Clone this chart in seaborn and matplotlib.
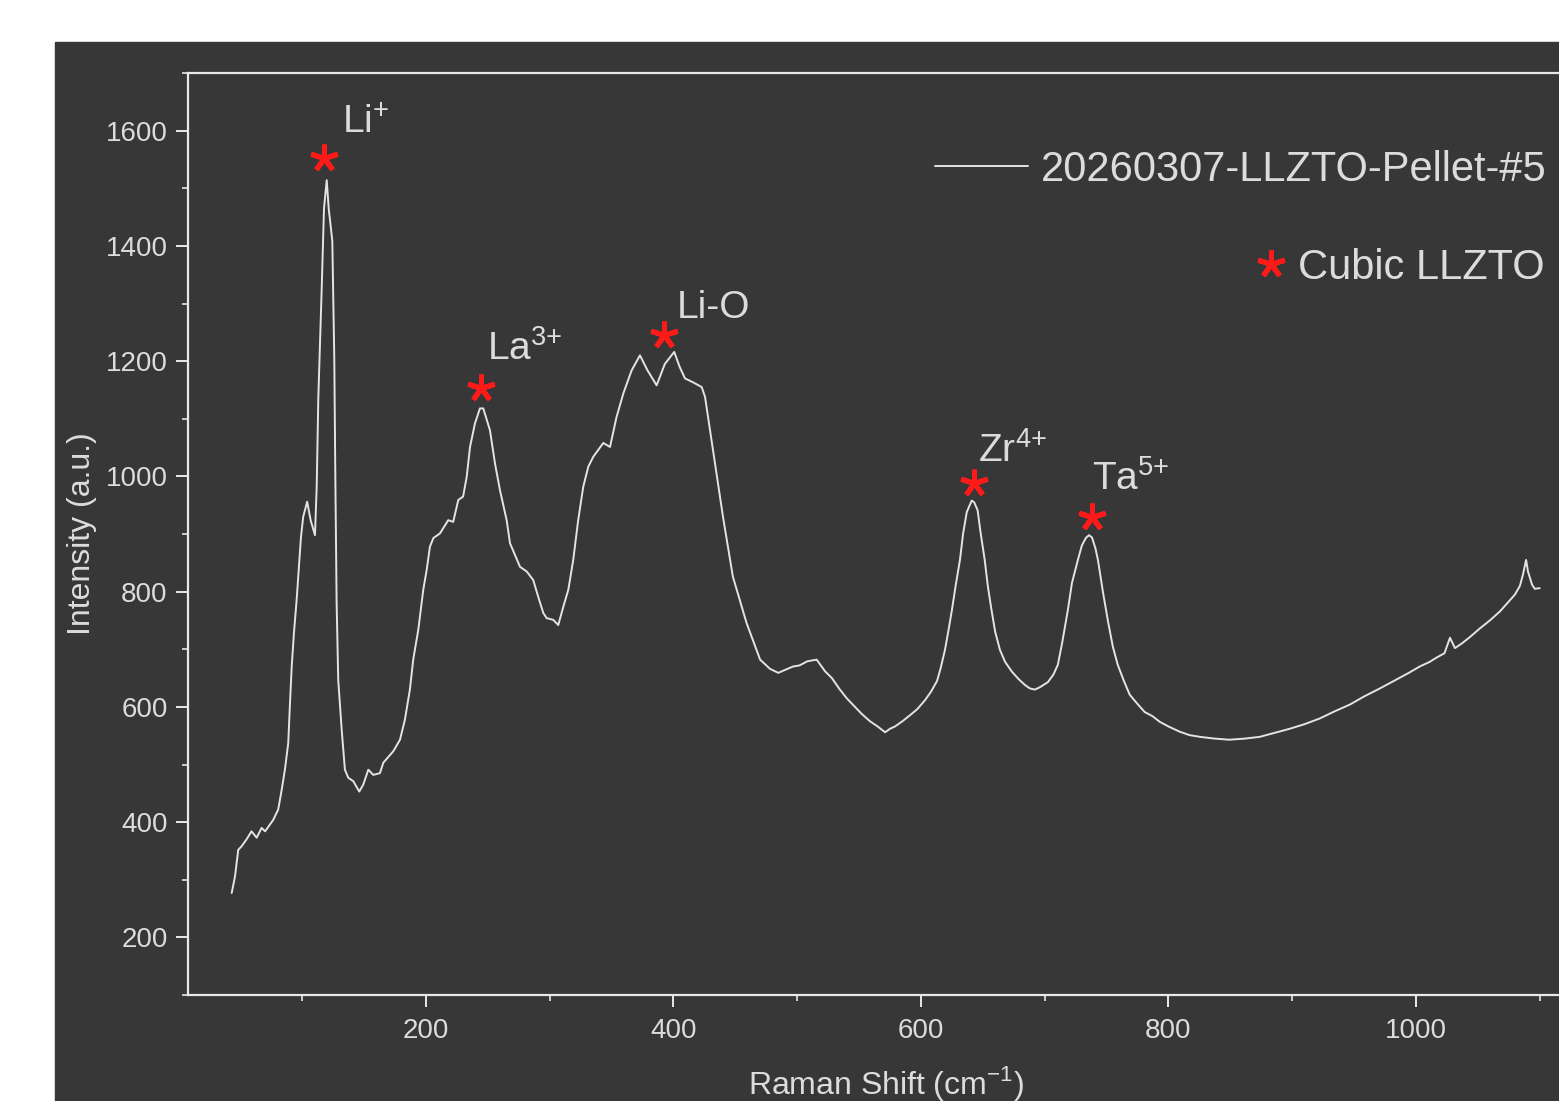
import numpy as np
import pandas as pd
import seaborn as sns
import matplotlib.pyplot as plt
from matplotlib.patches import Rectangle
from matplotlib.lines import Line2D
from matplotlib.ticker import MultipleLocator

# Raman spectrum (Raman shift in cm-1, intensity in a.u.)
shift = [43, 45.7, 48.3, 51, 55, 59, 63.2, 67.2, 70, 76.6, 80.6, 83.4, 86, 88.7, 90, 91.5,
         93.3, 95.5, 97.4, 99, 100.8, 104, 106.8, 110.3, 111.7, 113, 115.7, 117.6, 119.8,
         121.4, 124.3, 125.9, 126.8, 127.8, 129.1, 131.9, 134.5, 137.2, 141.3, 146.1, 149.3,
         153.4, 157.4, 162.8, 165.5, 173.6, 179, 183, 187, 189.7, 193.8, 197.8, 200.6, 203.2,
         206, 211.3, 218, 222, 226.1, 230, 232.9, 235.6, 239.6, 243.6, 246.3, 251.7, 255.8,
         259.8, 265.2, 267.9, 276, 281.4, 286.7, 290.7, 294.8, 297.5, 302.9, 306.9, 311, 315,
         319, 323, 327.1, 331.2, 335.2, 339.2, 343.3, 348.7, 354, 359.5, 366.2, 372.9, 379,
         386.4, 393, 400.6, 405, 409.3, 416, 422.8, 425.5, 432, 440, 448, 459, 470, 478,
         484.7, 490, 496.6, 502, 508, 515.7, 522.4, 528, 534.5, 540, 546.7, 552, 558.8, 565,
         571, 575, 579, 585, 591.4, 597, 603.4, 608, 613, 616, 619.4, 622, 625, 628, 631.5,
         634, 637, 641, 643, 645.8, 648, 651.5, 654, 657, 660, 663.8, 668, 673.5, 679, 684,
         688, 692, 696, 702.6, 707, 710.6, 714, 718.7, 722, 726.8, 730, 733.2, 735.8, 738.2,
         741, 743, 747, 751, 755, 759, 764, 768.7, 775, 780.8, 787, 793, 800, 809, 817,
         825.4, 837, 849, 862, 873.8, 886, 898, 910, 922.4, 934, 946.6, 958, 970.8, 983, 995,
         1003, 1011, 1017, 1023, 1027.5, 1031.5, 1037, 1043.5, 1051, 1059.7, 1068, 1075.8,
         1080, 1084, 1086.5, 1089, 1090.5, 1093.8, 1096, 1100]
intensity = [277, 306, 352, 358, 370, 384, 373, 390, 384, 404, 422, 456, 491, 537, 601, 670,
             728, 786, 846, 895, 930, 956, 924, 898, 982, 1136, 1323, 1465, 1514,
             1465, 1409, 1207, 990, 780, 647, 560, 491, 477, 471, 453, 465,
             491, 482, 485, 503, 523, 543, 578, 630, 682, 734, 803, 838, 878,
             893, 901, 924, 921, 959, 965, 999, 1051, 1092, 1118, 1118, 1080, 1022,
             976, 924, 884, 843, 835, 820, 791, 763, 754, 751, 742, 774, 803,
             855, 924, 982, 1017, 1034, 1046, 1058, 1051, 1103, 1144, 1184, 1210, 1184,
             1158, 1195, 1216, 1190, 1170, 1163, 1155, 1138, 1045, 930, 826, 746, 682, 666,
             659, 664, 670, 672, 679, 682, 662, 650, 630, 615, 600, 588, 575, 566,
             556, 562, 566, 575, 586, 596, 612, 626, 645, 668, 699, 730, 768, 810, 855,
             900, 938, 958, 955, 941, 905, 855, 810, 768, 730, 699, 678, 661, 648, 638,
             632, 630, 634, 643, 656, 673, 710, 768, 815, 855, 880, 893, 898, 894,
             875, 855, 800, 750, 705, 673, 645, 621, 605, 591, 584, 574, 566, 557, 551,
             548, 545, 543, 545, 548, 555, 562, 570, 580, 592, 604, 618, 632, 646, 660,
             670, 678, 686, 693, 720, 702, 710, 721, 735, 750, 766, 785,
             795, 810, 830, 855, 835, 812, 805, 806]

# Cubic LLZTO peak markers
peak_shift = [117.6, 244.4, 392.3, 642.8, 738.2]
peak_height = [1553, 1153, 1246, 988, 929]
peak_labels = [r"Li$^{\mathregular{{+}}}$", r"La$^{\mathregular{3{+}}}$", "Li-O",
               r"Zr$^{\mathregular{4{+}}}$", r"Ta$^{\mathregular{5{+}}}$"]
label_offsets = [(18, 24), (6, 28), (13, 17), (4, 21), (0, 27)]  # pixels

series_name = "20260307-LLZTO-Pellet-#5"

dark = "#373737"
fg = "#dcdcdc"
star_red = "#ff1a1a"

sns.set_theme(style="dark", rc={
    "axes.facecolor": dark,
    "figure.facecolor": "white",
    "axes.edgecolor": "#e8e8e8",
    "axes.linewidth": 1.6,
    "xtick.color": "#e8e8e8",
    "ytick.color": "#e8e8e8",
    "xtick.labelcolor": fg,
    "ytick.labelcolor": fg,
    "axes.labelcolor": fg,
    "text.color": fg,
})
plt.rcParams['font.family'] = ['Liberation Sans', 'DejaVu Sans']
plt.rcParams['mathtext.fontset'] = 'custom'
plt.rcParams['mathtext.rm'] = 'Liberation Sans'

W, H = 1559, 1101
fig = plt.figure(figsize=(W / 100, H / 100), dpi=100)
fig.patches.append(Rectangle((55 / W, 0), 1, (H - 42) / H, transform=fig.transFigure,
                             color=dark, zorder=-1))

ax_left, ax_bottom = 188 / W, (H - 995) / H
ax_h = (995 - 73) / H
x0, x1 = 7.7, 1135
ax_w = (x1 - x0) * 1.2375 / W
ax = fig.add_axes([ax_left, ax_bottom, ax_w, ax_h])

df = pd.DataFrame({"shift": shift, "intensity": intensity})
sns.lineplot(data=df, x="shift", y="intensity", ax=ax, color="#e4e4e4", lw=1.4,
             estimator=None, legend=False)

ax.plot(peak_shift, peak_height, ls="none", marker=(5, 2, 0), ms=20, mew=3.6,
        color=star_red, zorder=4)
for px, py, lab, off in zip(peak_shift, peak_height, peak_labels, label_offsets):
    ax.annotate(lab, (px, py), xytext=off, textcoords="offset pixels",
                ha="left", va="baseline", fontsize=28, color=fg)

ax.set_xlim(x0, x1)
ax.set_ylim(100, 1700)
ax.xaxis.set_major_locator(MultipleLocator(200))
ax.xaxis.set_minor_locator(MultipleLocator(100))
ax.yaxis.set_major_locator(MultipleLocator(200))
ax.yaxis.set_minor_locator(MultipleLocator(100))
ax.tick_params(which="both", direction="out", bottom=True, left=True, top=False, right=False)
ax.tick_params(which="major", length=8.6, width=1.4, labelsize=20, pad=6)
ax.tick_params(which="minor", length=4.3, width=1.2)
ax.tick_params(axis="x", which="major", pad=8)
ax.grid(False)

ax.set_xlabel(r"Raman Shift (cm$^{\mathregular{-1}}$)", fontsize=23)
ax.set_ylabel("Intensity (a.u.)", fontsize=23)
ax.xaxis.set_label_coords((886 - 188) / (ax_w * W), -0.075)
ax.yaxis.set_label_coords((97 - 188) / (ax_w * W), 0.5)

leg1 = fig.legend([Line2D([], [], color="#e4e4e4", lw=1.4)], [series_name],
                  loc="center right", bbox_to_anchor=(1547 / W, 1 - 170 / H),
                  frameon=False, fontsize=30, handlelength=2.23, handletextpad=0.31,
                  borderpad=0, borderaxespad=0, labelcolor=fg)
leg2 = fig.legend([Line2D([], [], ls="none", marker=(5, 2, 0), ms=20, mew=3.6, color=star_red)],
                  ["Cubic LLZTO"],
                  loc="center right", bbox_to_anchor=(1545 / W, 1 - 268 / H),
                  frameon=False, fontsize=30, handlelength=0.7, handletextpad=0.3,
                  borderpad=0, borderaxespad=0, labelcolor=fg)

fig.savefig("out.png", dpi=100)
